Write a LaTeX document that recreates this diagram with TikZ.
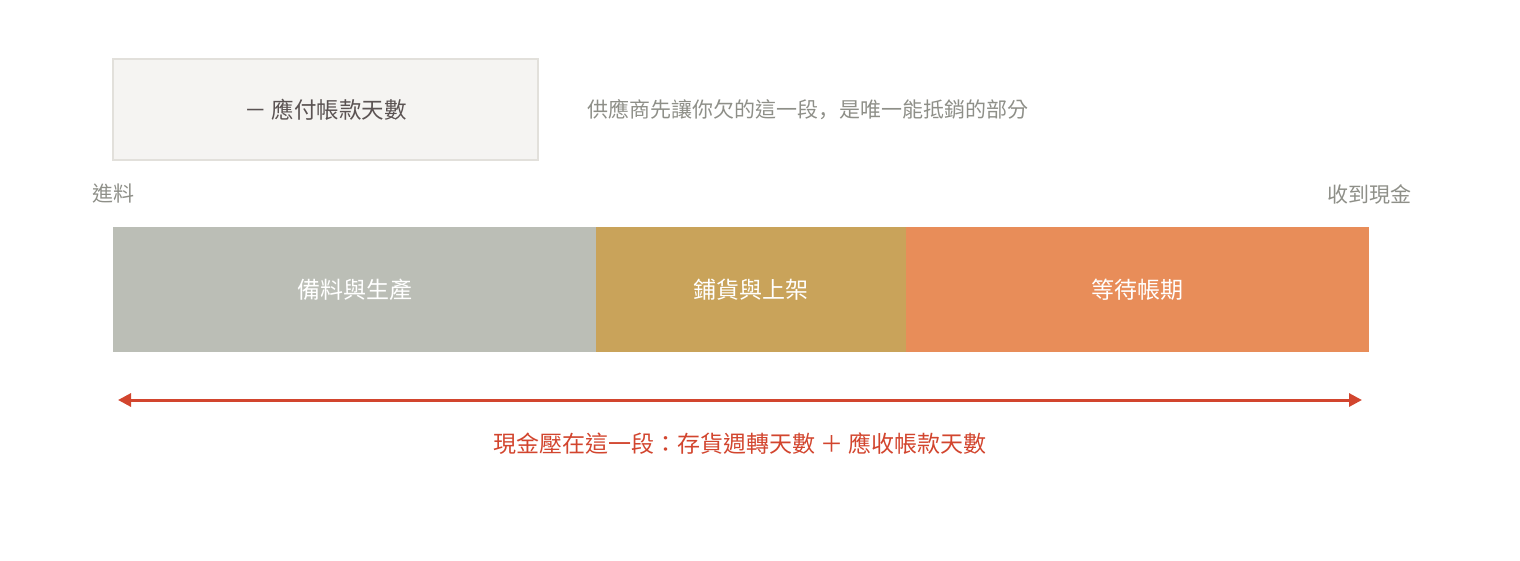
\documentclass[tikz,border=0pt]{standalone}
\usepackage{fontspec}
\setmainfont{Noto Sans CJK TC}
\newfontfamily\jpfont{Noto Sans CJK JP}
\usepackage{tikz}
\usetikzlibrary{arrows.meta,positioning}
\definecolor{boxline}{HTML}{E2E0DB}
\definecolor{boxfill}{HTML}{F5F4F2}
\definecolor{darktext}{HTML}{5B5353}
\definecolor{graytext}{HTML}{8E8F88}
\definecolor{prepgray}{HTML}{BBBEB6}
\definecolor{shelfgold}{HTML}{C9A35A}
\definecolor{waitorange}{HTML}{E88D59}
\definecolor{cashred}{HTML}{D2452E}

\begin{document}
\begin{tikzpicture}[x=1pt,y=-1pt,node distance=0pt,
                    font=\fontsize{23}{27}\selectfont]

  \tikzstyle{bar}=[minimum height=125pt,inner sep=0pt,outer sep=0pt,text=white]
  \tikzstyle{end label}=[text=graytext,font=\fontsize{21}{25}\selectfont]

  \useasboundingbox (0,0) rectangle (1520,560);

  \node[draw=boxline,fill=boxfill,line width=2pt,minimum width=425pt,
        minimum height=101pt,text=darktext,font=\fontsize{22.5}{27}\selectfont]
                                                  (A) at (325.5,109.5) {－ 應付帳款天數};
  \node[text=graytext,font=\fontsize{21}{25}\selectfont,inner sep=0pt]
                                                  (N) [right=48pt of A] {供應商先讓你欠的這一段{\jpfont ，}是唯一能抵銷的部分};

  \node[bar,fill=prepgray,minimum width=483pt]    (B1) at (354.5,289.5) {備料與生產};
  \node[bar,fill=shelfgold,minimum width=310pt]   (B2) [right=of B1] {鋪貨與上架};
  \node[bar,fill=waitorange,minimum width=463pt]  (B3) [right=of B2] {等待帳期};

  \node[end label] (S) at ([yshift=33pt]B1.north west) {進料};
  \node[end label] (E) at ([yshift=33pt]B3.north east) {收到現金};

  \coordinate (L) at ([xshift=5pt,yshift=-48pt]B1.south west);
  \coordinate (R) at ([xshift=-7pt,yshift=-48pt]B3.south east);

  \draw[{Triangle[length=13pt,width=13pt]}-{Triangle[length=13pt,width=13pt]},
        line width=3pt,draw=cashred,fill=cashred] (L) -- (R);
  \path (L) -- (R) node[midway,yshift=-44pt,text=cashred] (C)
        {現金壓在這一段{\jpfont ：}存貨週轉天數 ＋ 應收帳款天數};
\end{tikzpicture}
\end{document}
